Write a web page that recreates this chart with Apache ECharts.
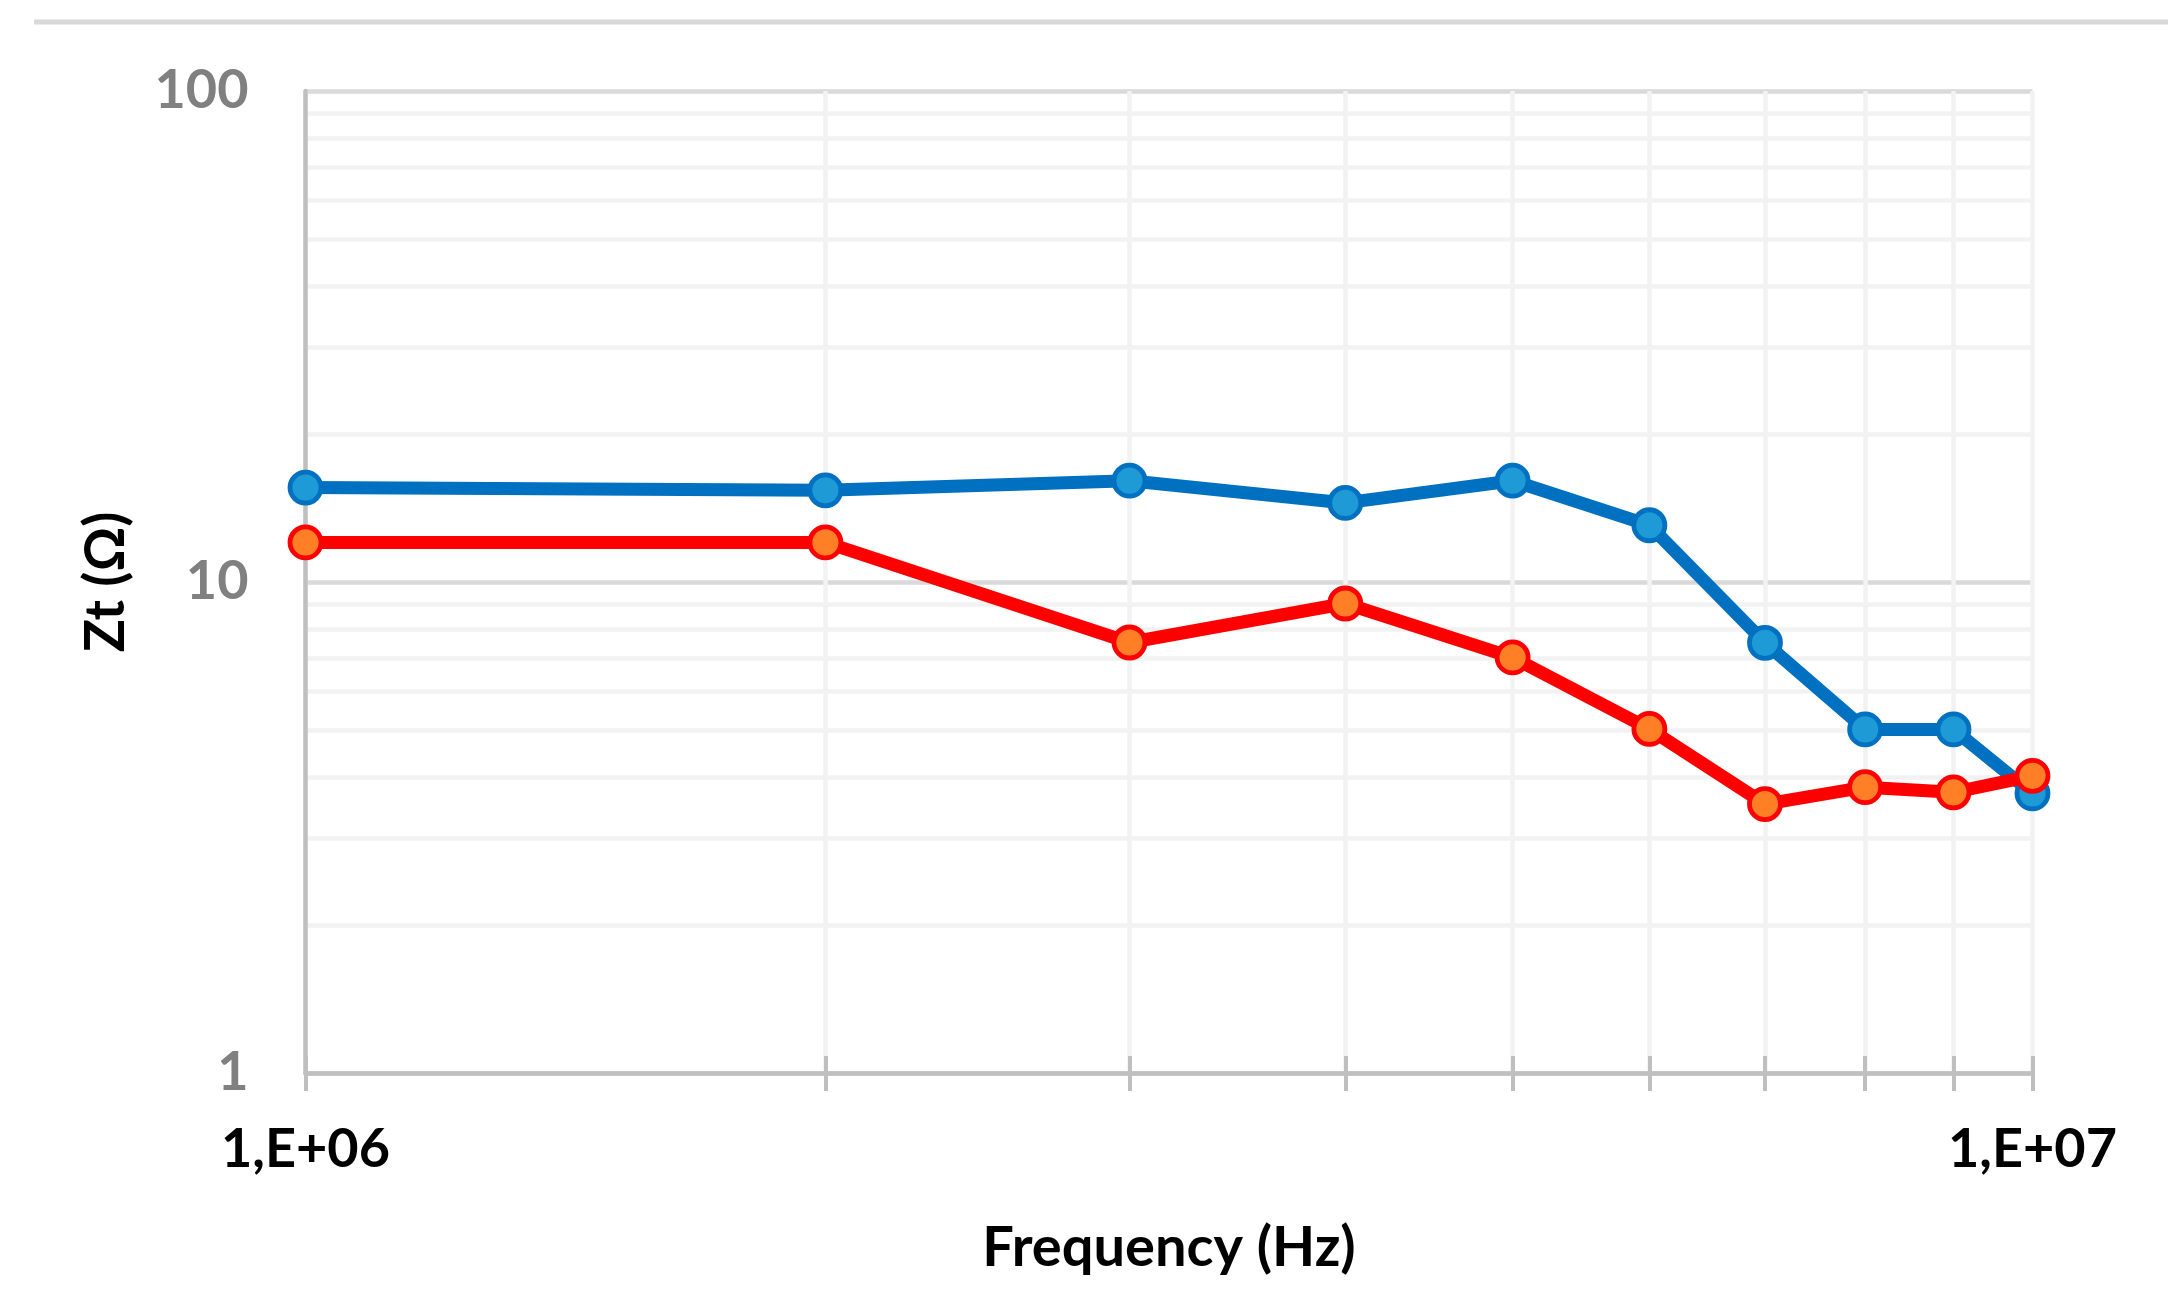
<!DOCTYPE html>
<html>
<head>
<meta charset="utf-8">
<script src="https://cdn.jsdelivr.net/npm/echarts@6/dist/echarts.min.js"></script>
<style>
  html, body { margin: 0; padding: 0; background: #ffffff; }
  #chart { width: 2168px; height: 1295px; }
</style>
</head>
<body>
<div id="chart"></div>
<script>
// ---- data ----
const frequencies = [1e6, 2e6, 3e6, 4e6, 5e6, 6e6, 7e6, 8e6, 9e6, 1e7];
const blueValues  = [15.57, 15.37, 16.08, 14.49, 16.08, 13.05, 7.52, 5.01, 5.01, 3.71];
const redValues   = [12.04, 12.04, 7.53, 9.04, 7.02, 5.02, 3.53, 3.82, 3.73, 4.03];

// ---- axis ticks / labels ----
const xTickValues  = [1e6, 2e6, 3e6, 4e6, 5e6, 6e6, 7e6, 8e6, 9e6, 1e7];
const xLabelValues = [1e6, 1e7];
const xLabelTexts  = ['1,E+06', '1,E+07'];
const yGridValues  = [1, 2, 3, 4, 5, 6, 7, 8, 9, 10, 20, 30, 40, 50, 60, 70, 80, 90, 100];
const yMajorValues = [1, 10, 100];
const yLabelValues = [1, 10, 100];

const xAxisTitle = 'Frequency (Hz)';
const yAxisTitle = 'Zt (Ω)';

const FONT = 'Lato';
const chart = echarts.init(document.getElementById('chart'), null, { renderer: 'canvas' });

const ySplitColors = yGridValues.map(v => yMajorValues.indexOf(v) >= 0 ? '#D9D9D9' : '#F2F2F2');

const option = {
  backgroundColor: '#ffffff',
  animation: false,
  grid: {
    left: 305.5, right: 135.5, top: 91, bottom: 222,
    containLabel: false,
    outerBoundsMode: 'none'
  },
  graphic: [{
    type: 'rect',
    shape: { x: 34, y: 19.5, width: 2134, height: 5 },
    style: { fill: '#D9D9D9' },
    silent: true
  }],
  xAxis: [{
    type: 'log',
    logBase: 10,
    min: 1e6,
    max: 1e7,
    position: 'bottom',
    name: xAxisTitle,
    nameLocation: 'middle',
    nameGap: 147,
    nameTextStyle: { fontFamily: FONT, fontWeight: 'bold', fontSize: 56, color: '#000000' },
    axisLine: { show: true, lineStyle: { color: '#BFBFBF', width: 4.5 } },
    axisTick: { show: true, inside: false, length: 18, customValues: xTickValues,
                lineStyle: { color: '#BFBFBF', width: 4 } },
    axisLabel: {
      show: true,
      customValues: xLabelValues,
      margin: 50,
      fontFamily: FONT, fontWeight: 'bold', fontSize: 54, color: '#000000',
      formatter: function (value) {
        const i = xLabelValues.findIndex(v => Math.abs(v - value) / v < 1e-6);
        return i >= 0 ? xLabelTexts[i] : '';
      }
    },
    splitLine: { show: true, lineStyle: { color: '#F2F2F2', width: 4.5 } },
    minorTick: { show: false },
    minorSplitLine: { show: false }
  }, {
    type: 'log',
    logBase: 10,
    min: 1e6,
    max: 1e7,
    position: 'bottom',
    axisLine: { show: false },
    axisTick: { show: true, inside: true, length: 17, customValues: xTickValues,
                lineStyle: { color: '#BFBFBF', width: 4 } },
    axisLabel: { show: false },
    splitLine: { show: false }
  }],
  yAxis: {
    type: 'log',
    logBase: 10,
    min: 1,
    max: 100,
    name: yAxisTitle,
    nameLocation: 'middle',
    nameRotate: 90,
    nameGap: 172,
    nameTextStyle: { fontFamily: FONT, fontWeight: 'bold', fontSize: 55, color: '#000000' },
    axisLine: { show: true, lineStyle: { color: '#BFBFBF', width: 4.5 } },
    axisTick: { show: false, customValues: yGridValues },
    axisLabel: {
      show: true,
      customValues: yLabelValues,
      margin: 57,
      fontFamily: FONT, fontWeight: 'bold', fontSize: 54, color: '#808080',
      formatter: function (value) { return String(Math.round(value)); }
    },
    splitLine: { show: true, lineStyle: { color: ySplitColors, width: 4.5 } },
    minorTick: { show: false },
    minorSplitLine: { show: false }
  },
  series: [{
    name: 'Blue',
    type: 'line',
    xAxisIndex: 0,
    data: frequencies.map((f, i) => [f, blueValues[i]]),
    symbol: 'circle',
    symbolSize: 31,
    showAllSymbol: true,
    lineStyle: { color: '#0070C0', width: 13 },
    itemStyle: { color: '#1E9BD7', borderColor: '#0070C0', borderWidth: 4.8 },
    z: 3,
    silent: true
  }, {
    name: 'Red',
    type: 'line',
    xAxisIndex: 0,
    data: frequencies.map((f, i) => [f, redValues[i]]),
    symbol: 'circle',
    symbolSize: 31,
    showAllSymbol: true,
    lineStyle: { color: '#FF0000', width: 13 },
    itemStyle: { color: '#FF7F27', borderColor: '#FF0000', borderWidth: 4.8 },
    z: 4,
    silent: true
  }]
};

chart.setOption(option);
</script>
</body>
</html>
